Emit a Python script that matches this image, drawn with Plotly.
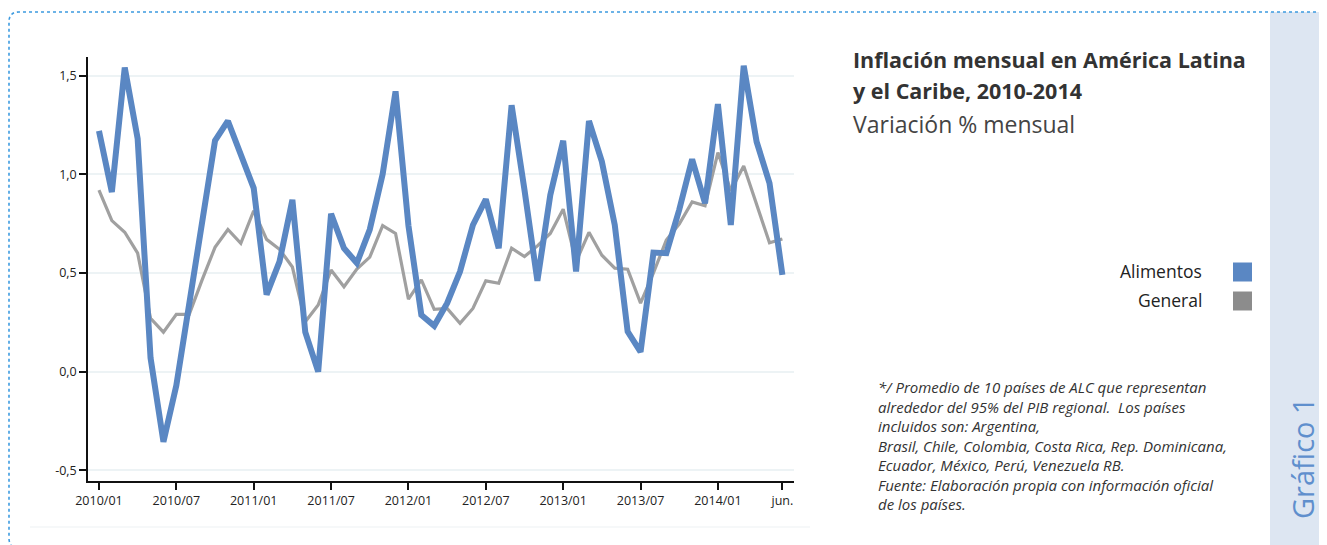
import plotly.graph_objects as go

# ---------------- data ----------------
months = [f"{y}/{m:02d}" for y in range(2010, 2015) for m in range(1, 13)][:54]

alimentos = [1.22, 0.91, 1.54, 1.18, 0.07, -0.355, -0.07, 0.33, 0.75, 1.17,
             1.27, 1.10, 0.93, 0.39, 0.557, 0.87, 0.20, 0.0, 0.80, 0.625,
             0.55, 0.72, 1.00, 1.42, 0.74, 0.287, 0.232, 0.347, 0.507, 0.743,
             0.873, 0.625, 1.35, 0.92, 0.46, 0.895, 1.17, 0.507, 1.27, 1.064,
             0.743, 0.203, 0.10, 0.603, 0.60, 0.82, 1.076, 0.853, 1.355, 0.743,
             1.55, 1.165, 0.955, 0.49]

general = [0.92, 0.765, 0.706, 0.60, 0.27, 0.20, 0.29, 0.29, 0.465, 0.63,
           0.72, 0.65, 0.815, 0.67, 0.62, 0.53, 0.253, 0.338, 0.515, 0.43,
           0.52, 0.58, 0.74, 0.70, 0.367, 0.465, 0.316, 0.32, 0.245, 0.32,
           0.46, 0.448, 0.625, 0.583, 0.637, 0.70, 0.823, 0.557, 0.706, 0.59,
           0.524, 0.519, 0.347, 0.50, 0.667, 0.748, 0.86, 0.84, 1.11, 0.917,
           1.042, 0.845, 0.653, 0.672]

x_tick_vals = ["2010/01", "2010/07", "2011/01", "2011/07", "2012/01", "2012/07",
               "2013/01", "2013/07", "2014/01", "2014/06"]
x_tick_text = ["2010/01", "2010/07", "2011/01", "2011/07", "2012/01", "2012/07",
               "2013/01", "2013/07", "2014/01", "jun."]
y_tick_vals = [-0.5, 0.0, 0.5, 1.0, 1.5]
y_tick_text = ["-0,5", "0,0", "0,5", "1,0", "1,5"]

series_names = ["Alimentos", "General"]
series_colors = ["#5a87c3", "#a0a0a0"]

title_lines = ["Inflación mensual en América Latina", "y el Caribe, 2010-2014"]
subtitle = "Variación % mensual"
note_lines = [
    "*/ Promedio de 10 países de ALC que representan",
    "alrededor del 95% del PIB regional.  Los países",
    "incluidos son: Argentina,",
    "Brasil, Chile, Colombia, Costa Rica, Rep. Dominicana,",
    "Ecuador, México, Perú, Venezuela RB.",
    "Fuente: Elaboración propia con información oficial",
    "de los países.",
]
side_label = "Gráfico 1"

# ---------------- layout helpers (page pixel -> paper) ----------------
OFF = 8                      # default body margin of the page
W, H = 1327 - OFF, 545 - OFF
L, R, T, B = 88, 794, 57, 481  # plot area in page pixels


def px(x):
    return (x - L) / (R - L)


def py(y):
    return (B - y) / (B - T)


FONT = "Open Sans"

fig = go.Figure()
fig.add_trace(go.Scatter(x=months, y=general, mode="lines", name=series_names[1],
                         line=dict(color=series_colors[1], width=3.2)))
fig.add_trace(go.Scatter(x=months, y=alimentos, mode="lines", name=series_names[0],
                         line=dict(color=series_colors[0], width=6)))

shapes = []
# right side panel
shapes.append(dict(type="rect", xref="paper", yref="paper",
                   x0=px(1270), x1=px(1340), y0=py(12), y1=py(560),
                   fillcolor="#dde6f2", line=dict(width=0), layer="below"))
# dotted rounded border
path = (f"M {px(1340)},{py(12)} L {px(19)},{py(12)} "
        f"Q {px(9)},{py(12)} {px(9)},{py(22)} "
        f"L {px(9)},{py(538)} Q {px(9)},{py(545)} {px(14)},{py(548)}")
shapes.append(dict(type="path", xref="paper", yref="paper", path=path,
                   line=dict(color="#3d9be0", width=1.6, dash="dot")))
# thin separator line under chart
shapes.append(dict(type="line", xref="paper", yref="paper",
                   x0=px(30), x1=px(810), y0=py(527), y1=py(527),
                   line=dict(color="#edf1f4", width=1.2)))
# legend squares
for i, c in enumerate(series_colors):
    yc = 272 + i * 29
    shapes.append(dict(type="rect", xref="paper", yref="paper",
                       x0=px(1233), x1=px(1252), y0=py(yc - 9.5), y1=py(yc + 9.5),
                       fillcolor=("#5a87c3" if i == 0 else "#8c8c8c"), line=dict(width=0)))

annotations = []
for i, t in enumerate(title_lines):
    annotations.append(dict(text=f"<b>{t}</b>", xref="paper", yref="paper",
                            x=px(851), y=py(59 + i * 31), xanchor="left", yanchor="middle",
                            showarrow=False, font=dict(family=FONT, size=21.5, color="#333333")))
annotations.append(dict(text=subtitle, xref="paper", yref="paper",
                        x=px(851), y=py(124), xanchor="left", yanchor="middle",
                        showarrow=False, font=dict(family=FONT, size=23, color="#444444")))
for i, n in enumerate(series_names):
    annotations.append(dict(text=n, xref="paper", yref="paper",
                            x=px(1204), y=py(271 + i * 29), xanchor="right", yanchor="middle",
                            showarrow=False, font=dict(family=FONT, size=17.5, color="#222222")))
annotations.append(dict(text="<br>".join(f"<i>{t}</i>" for t in note_lines),
                        xref="paper", yref="paper", align="left",
                        x=px(876), y=py(445), xanchor="left", yanchor="middle",
                        showarrow=False, font=dict(family=FONT, size=15, color="#333333")))
annotations.append(dict(text=side_label, xref="paper", yref="paper",
                        x=px(1302), y=py(458), xanchor="center", yanchor="middle",
                        textangle=-90, showarrow=False,
                        font=dict(family=FONT, size=29, color="#5f8fcd")))

fig.update_layout(
    width=W, height=H, autosize=False,
    margin=dict(l=L - OFF, r=W - (R - OFF), t=T - OFF, b=H - (B - OFF), pad=0),
    paper_bgcolor="white", plot_bgcolor="white",
    showlegend=False,
    shapes=shapes, annotations=annotations,
    font=dict(family=FONT, size=12.5, color="#222222"),
)
fig.update_xaxes(type="category", categoryorder="array", categoryarray=months,
                 range=[-0.85, 53.9], tickmode="array", tickvals=x_tick_vals,
                 ticktext=x_tick_text, ticks="outside", ticklen=7, tickwidth=1.5,
                 tickcolor="#111111", showline=True, linecolor="#111111", linewidth=1.5,
                 showgrid=False, zeroline=False,
                 tickfont=dict(family=FONT, size=12.5, color="#222222"))
fig.update_yaxes(range=[-0.554, 1.594], tickmode="array", tickvals=y_tick_vals,
                 ticktext=y_tick_text, ticks="outside", ticklen=7, tickwidth=1.5,
                 tickcolor="#111111", showline=True, linecolor="#111111", linewidth=1.5,
                 showgrid=True, gridcolor="#edf3f5", gridwidth=1.5, zeroline=False,
                 tickfont=dict(family=FONT, size=12.5, color="#222222"))

fig.write_html("out.html")
